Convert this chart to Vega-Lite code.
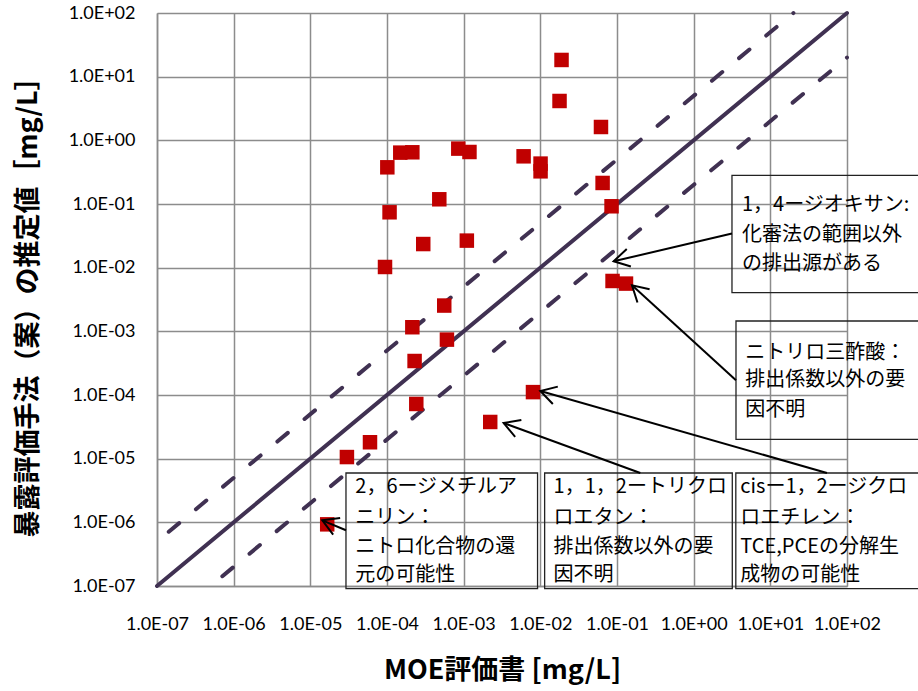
{
  "$schema": "https://vega.github.io/schema/vega-lite/v6.json",
  "width": 690,
  "height": 573,
  "autosize": {"type": "none"},
  "padding": {"left": 157, "top": 13, "right": 71, "bottom": 105},
  "background": "white",
  "config": {"view": {"stroke": null}},
  "datasets": {
    "points": [
      {"moe": 0.0189, "est": 18.3},
      {"moe": 0.0178, "est": 4.15},
      {"moe": 0.0618, "est": 1.62},
      {"moe": 0.000149, "est": 0.641},
      {"moe": 0.000214, "est": 0.649},
      {"moe": 0.000101, "est": 0.377},
      {"moe": 0.000851, "est": 0.741},
      {"moe": 0.00119, "est": 0.656},
      {"moe": 0.000481, "est": 0.1186},
      {"moe": 0.000108, "est": 0.0741},
      {"moe": 0.000297, "est": 0.0235},
      {"moe": 0.0011, "est": 0.0266},
      {"moe": 0.0000942, "est": 0.01025},
      {"moe": 0.00605, "est": 0.561},
      {"moe": 0.01007, "est": 0.431},
      {"moe": 0.01007, "est": 0.326},
      {"moe": 0.0649, "est": 0.214},
      {"moe": 0.0849, "est": 0.0921},
      {"moe": 0.0875, "est": 0.00618},
      {"moe": 0.131, "est": 0.00562},
      {"moe": 0.000558, "est": 0.00254},
      {"moe": 0.000214, "est": 0.00116},
      {"moe": 0.000605, "est": 0.000741},
      {"moe": 0.000229, "est": 0.000342},
      {"moe": 0.000241, "est": 0.0000723},
      {"moe": 0.00802, "est": 0.000111},
      {"moe": 0.00222, "est": 0.0000377},
      {"moe": 0.00006, "est": 0.0000181},
      {"moe": 0.00003, "est": 0.0000106},
      {"moe": 0.0000166, "est": 0.00000093}
    ],
    "lines": [
      {"series": "1:1", "x": 1e-7, "y": 1e-7},
      {"series": "1:1", "x": 100, "y": 100},
      {"series": "x5", "x": 1e-7, "y": 5e-7},
      {"series": "x5", "x": 20, "y": 100},
      {"series": "x0.2", "x": 5e-7, "y": 1e-7},
      {"series": "x0.2", "x": 100, "y": 20}
    ],
    "boxes": [
      {"id": "A", "x": 3.16, "x2": 1000, "y": 0.2825, "y2": 0.004055},
      {"id": "B", "x": 3.565, "x2": 1000, "y": 0.001452, "y2": 0.00002014},
      {"id": "C", "x": 0.00002917, "x2": 0.0092, "y": 0.00000596, "y2": 9.1e-8},
      {"id": "D", "x": 0.01138, "x2": 3.19, "y": 0.00000596, "y2": 9.1e-8},
      {"id": "E", "x": 3.546, "x2": 1000, "y": 0.00000596, "y2": 9.1e-8}
    ],
    "labels": [
      {"x": 4.27, "y": 0.0955, "text": "1，4ージオキサン:"},
      {"x": 4.27, "y": 0.0328, "text": "化審法の範囲以外"},
      {"x": 4.27, "y": 0.0115, "text": "の排出源がある"},
      {"x": 4.72, "y": 0.00046, "text": "ニトリロ三酢酸："},
      {"x": 4.72, "y": 0.00017, "text": "排出係数以外の要"},
      {"x": 4.72, "y": 0.0000575, "text": "因不明"},
      {"x": 0.0000386, "y": 0.00000355, "text": "2，6ージメチルア"},
      {"x": 0.0000386, "y": 0.000001178, "text": "ニリン："},
      {"x": 0.0000386, "y": 4.055e-7, "text": "ニトロ化合物の還"},
      {"x": 0.0000386, "y": 1.472e-7, "text": "元の可能性"},
      {"x": 0.0149, "y": 0.00000355, "text": "1，1，2ートリクロ"},
      {"x": 0.0149, "y": 0.000001178, "text": "ロエタン："},
      {"x": 0.0149, "y": 4.055e-7, "text": "排出係数以外の要"},
      {"x": 0.0149, "y": 1.472e-7, "text": "因不明"},
      {"x": 4.06, "y": 0.00000355, "text": "cisー1，2ージクロ"},
      {"x": 4.06, "y": 0.000001178, "text": "ロエチレン："},
      {"x": 4.06, "y": 4.055e-7, "text": " TCE,PCEの分解生"},
      {"x": 4.06, "y": 1.472e-7, "text": "成物の可能性"}
    ],
    "arrows": [
      {"id": "A", "x": 3.16, "y": 0.0343, "x2": 0.0904, "y2": 0.01259},
      {"id": "B", "x": 3.565, "y": 0.00017, "x2": 0.157, "y2": 0.005284},
      {"id": "C", "x": 54.8, "y": 0.00000596, "x2": 0.01, "y2": 0.0001156},
      {"id": "D", "x": 0.2014, "y": 0.00000596, "x2": 0.00332, "y2": 0.0000363},
      {"id": "E", "x": 0.00002917, "y": 7.5e-7, "x2": 0.00001432, "y2": 0.000001076}
    ]
  },
  "layer": [
    {
      "data": {"name": "lines"},
      "transform": [{"filter": "datum.series === '1:1'"}],
      "mark": {"type": "line", "color": "#403152", "strokeWidth": 4, "strokeCap": "round"},
      "encoding": {
        "x": {
          "field": "x", "type": "quantitative",
          "scale": {"type": "log", "domain": [1e-7, 100], "nice": false},
          "axis": {
            "values": [1e-7, 1e-6, 1e-5, 1e-4, 1e-3, 1e-2, 1e-1, 1, 10, 100],
            "labelExpr": "'1.0E' + (round(log(datum.value)/LN10) < 0 ? '-' : '+') + (abs(round(log(datum.value)/LN10)) < 10 ? '0' : '') + abs(round(log(datum.value)/LN10))",
            "grid": true, "gridColor": "#8c8c8c", "gridWidth": 1.5,
            "domain": true, "domainColor": "#8c8c8c", "domainWidth": 1.5,
            "ticks": false, "tickSize": 0,
            "labelFont": "Lato", "labelFontSize": 18, "labelColor": "#000000",
            "labelPadding": 29, "labelFlush": false, "labelOverlap": false,
            "title": "MOE評価書 [mg/L]",
            "titleFont": "Noto Sans CJK JP", "titleFontSize": 27, "titleFontWeight": "bold",
            "titleColor": "#000000", "titleX": 345, "titleY": 84,
            "titleAlign": "center", "titleBaseline": "middle"
          }
        },
        "y": {
          "field": "y", "type": "quantitative",
          "scale": {"type": "log", "domain": [1e-7, 100], "nice": false},
          "axis": {
            "values": [1e-7, 1e-6, 1e-5, 1e-4, 1e-3, 1e-2, 1e-1, 1, 10, 100],
            "labelExpr": "'1.0E' + (round(log(datum.value)/LN10) < 0 ? '-' : '+') + (abs(round(log(datum.value)/LN10)) < 10 ? '0' : '') + abs(round(log(datum.value)/LN10))",
            "grid": true, "gridColor": "#8c8c8c", "gridWidth": 1.5,
            "domain": true, "domainColor": "#8c8c8c", "domainWidth": 1.5,
            "ticks": false, "tickSize": 0,
            "labelFont": "Lato", "labelFontSize": 18, "labelColor": "#000000",
            "labelPadding": 22, "labelFlush": false, "labelOverlap": false,
            "title": "暴露評価手法（案）の推定値［mg/L］",
            "titleFont": "Noto Sans CJK JP", "titleFontSize": 27, "titleFontWeight": "bold",
            "titleColor": "#000000", "titleX": -129, "titleY": 287,
            "titleAngle": -90, "titleAlign": "center", "titleBaseline": "middle"
          }
        }
      }
    },
    {
      "data": {"name": "lines"},
      "transform": [{"filter": "datum.series !== '1:1'"}],
      "mark": {"type": "line", "color": "#403152", "strokeWidth": 4, "strokeCap": "round", "strokeDash": [13.5, 21.8], "strokeDashOffset": 20},
      "encoding": {
        "x": {"field": "x", "type": "quantitative", "scale": {"type": "log", "domain": [1e-7, 100], "nice": false}},
        "y": {"field": "y", "type": "quantitative", "scale": {"type": "log", "domain": [1e-7, 100], "nice": false}},
        "detail": {"field": "series"}
      }
    },
    {
      "data": {"name": "points"},
      "mark": {"type": "point", "shape": "square", "filled": true, "size": 210, "color": "#C00000", "opacity": 1},
      "encoding": {
        "x": {"field": "moe", "type": "quantitative", "scale": {"type": "log", "domain": [1e-7, 100], "nice": false}},
        "y": {"field": "est", "type": "quantitative", "scale": {"type": "log", "domain": [1e-7, 100], "nice": false}}
      }
    },
    {
      "data": {"name": "boxes"},
      "mark": {"type": "rect", "filled": false, "stroke": "#222222", "strokeWidth": 1.3},
      "encoding": {
        "x": {"field": "x", "type": "quantitative", "scale": {"type": "log", "domain": [1e-7, 100], "nice": false}},
        "x2": {"field": "x2"},
        "y": {"field": "y", "type": "quantitative", "scale": {"type": "log", "domain": [1e-7, 100], "nice": false}},
        "y2": {"field": "y2"}
      }
    },
    {
      "data": {"name": "arrows"},
      "mark": {"type": "rule", "color": "#000000", "strokeWidth": 2},
      "encoding": {
        "x": {"field": "x", "type": "quantitative", "scale": {"type": "log", "domain": [1e-7, 100], "nice": false}},
        "x2": {"field": "x2"},
        "y": {"field": "y", "type": "quantitative", "scale": {"type": "log", "domain": [1e-7, 100], "nice": false}},
        "y2": {"field": "y2"}
      }
    },
    {
      "data": {"name": "arrows"},
      "transform": [{"filter": "datum.id === 'A'"}],
      "mark": {"type": "point", "shape": "M-0.5,0.866L0,0L0.5,0.866", "size": 1296, "filled": false, "stroke": "#000000", "strokeWidth": 2, "opacity": 1, "angle": -103.2},
      "encoding": {
        "x": {"field": "x2", "type": "quantitative", "scale": {"type": "log", "domain": [1e-7, 100], "nice": false}},
        "y": {"field": "y2", "type": "quantitative", "scale": {"type": "log", "domain": [1e-7, 100], "nice": false}}
      }
    },
    {
      "data": {"name": "arrows"},
      "transform": [{"filter": "datum.id === 'B'"}],
      "mark": {"type": "point", "shape": "M-0.5,0.866L0,0L0.5,0.866", "size": 1296, "filled": false, "stroke": "#000000", "strokeWidth": 2, "opacity": 1, "angle": -47.6},
      "encoding": {
        "x": {"field": "x2", "type": "quantitative", "scale": {"type": "log", "domain": [1e-7, 100], "nice": false}},
        "y": {"field": "y2", "type": "quantitative", "scale": {"type": "log", "domain": [1e-7, 100], "nice": false}}
      }
    },
    {
      "data": {"name": "arrows"},
      "transform": [{"filter": "datum.id === 'C'"}],
      "mark": {"type": "point", "shape": "M-0.5,0.866L0,0L0.5,0.866", "size": 1296, "filled": false, "stroke": "#000000", "strokeWidth": 2, "opacity": 1, "angle": -74.0},
      "encoding": {
        "x": {"field": "x2", "type": "quantitative", "scale": {"type": "log", "domain": [1e-7, 100], "nice": false}},
        "y": {"field": "y2", "type": "quantitative", "scale": {"type": "log", "domain": [1e-7, 100], "nice": false}}
      }
    },
    {
      "data": {"name": "arrows"},
      "transform": [{"filter": "datum.id === 'D'"}],
      "mark": {"type": "point", "shape": "M-0.5,0.866L0,0L0.5,0.866", "size": 1296, "filled": false, "stroke": "#000000", "strokeWidth": 2, "opacity": 1, "angle": -69.9},
      "encoding": {
        "x": {"field": "x2", "type": "quantitative", "scale": {"type": "log", "domain": [1e-7, 100], "nice": false}},
        "y": {"field": "y2", "type": "quantitative", "scale": {"type": "log", "domain": [1e-7, 100], "nice": false}}
      }
    },
    {
      "data": {"name": "arrows"},
      "transform": [{"filter": "datum.id === 'E'"}],
      "mark": {"type": "point", "shape": "M-0.5,0.866L0,0L0.5,0.866", "size": 1296, "filled": false, "stroke": "#000000", "strokeWidth": 2, "opacity": 1, "angle": -67.1},
      "encoding": {
        "x": {"field": "x2", "type": "quantitative", "scale": {"type": "log", "domain": [1e-7, 100], "nice": false}},
        "y": {"field": "y2", "type": "quantitative", "scale": {"type": "log", "domain": [1e-7, 100], "nice": false}}
      }
    },
    {
      "data": {"name": "labels"},
      "mark": {"type": "text", "align": "left", "baseline": "middle", "font": "Noto Sans CJK JP", "fontSize": 20, "color": "#000000"},
      "encoding": {
        "x": {"field": "x", "type": "quantitative", "scale": {"type": "log", "domain": [1e-7, 100], "nice": false}},
        "y": {"field": "y", "type": "quantitative", "scale": {"type": "log", "domain": [1e-7, 100], "nice": false}},
        "text": {"field": "text"}
      }
    }
  ]
}
